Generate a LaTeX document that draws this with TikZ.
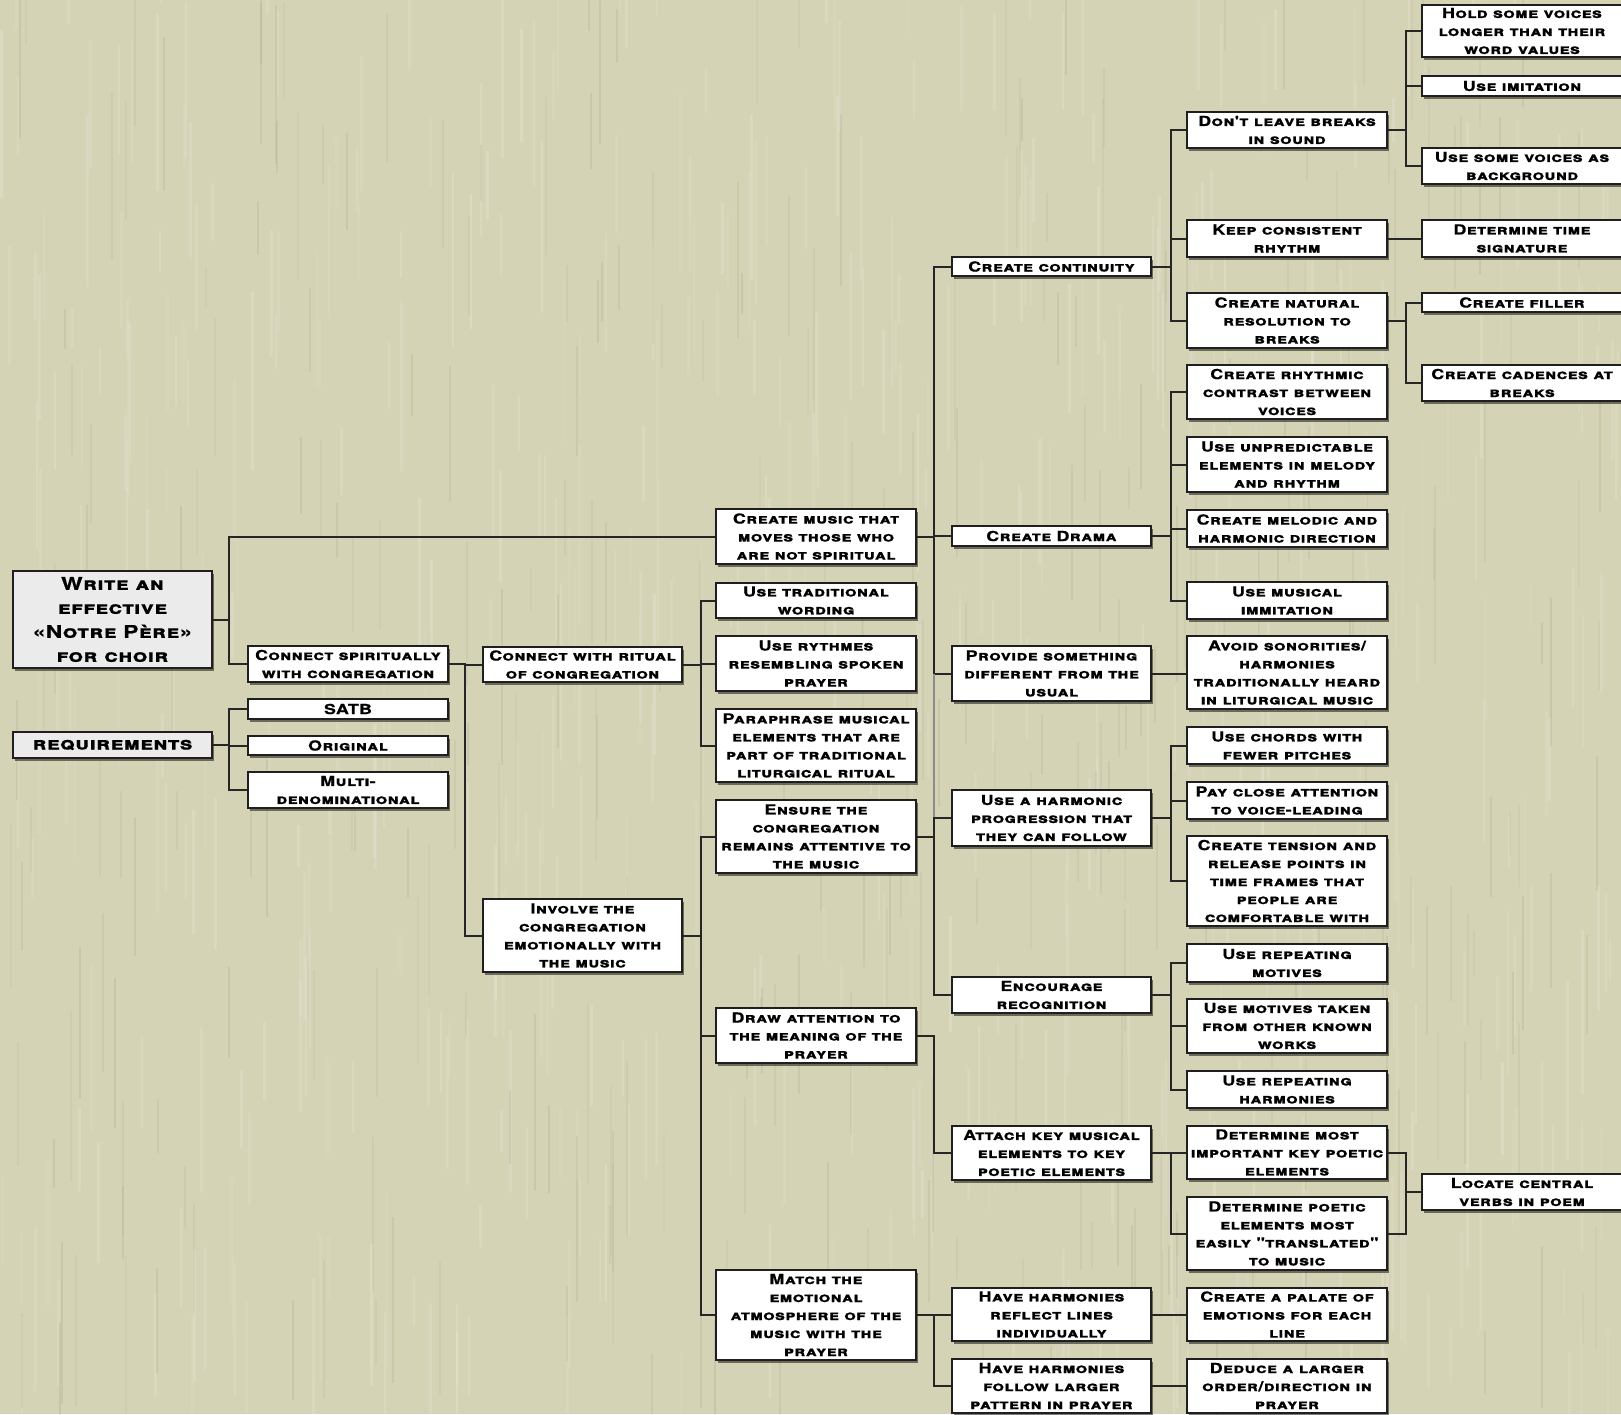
\documentclass[tikz,border=0pt]{standalone}
\usepackage{fontspec}
\usetikzlibrary{shadows}
\newfontfamily\cpf{TeX Gyre Heros}[FakeStretch=1.3,LetterSpace=2.5,FakeBold=0.6]
\definecolor{bgc}{HTML}{D5D3B6}
\definecolor{rootfill}{HTML}{EBEBEB}
\tikzset{
  box/.style={draw=black!88, line width=1.6pt, fill=white,
    drop shadow={shadow xshift=1.5pt, shadow yshift=-3pt, fill=black, opacity=0.5},
    align=center, inner sep=0pt, text=black,
    font=\cpf\bfseries\scshape\fontsize{13.8}{18}\selectfont},
  rootbox/.style={fill=rootfill, font=\cpf\bfseries\scshape\fontsize{17.5}{24}\selectfont},
  conline/.style={draw=black!85, line width=2pt}
}
\newcommand\bx[7][]{\node[box,#1,minimum width={(#5-#3)*1pt},minimum height={(#6-#4)*1pt}] (#2) at ({(#3+#5)/2},{(#4+#6)/2}) {#7};}
\newcommand\conn[3]{\draw[conline] (#1.east) -| (#3.west -| #2) -- (#3.west);}
\begin{document}
\begin{tikzpicture}[x=1pt,y=-1pt]
\useasboundingbox (0,0) rectangle (1621,1414);
\fill[bgc] (0,0) rectangle (1621,1414);
\begin{scope}
\clip (0,0) rectangle (1621,1414);
\pgfmathsetseed{11}
\foreach \i in {1,...,500} {
  \pgfmathsetmacro\xx{rnd*1621}
  \pgfmathsetmacro\yy{rnd*1414-60}
  \pgfmathsetmacro\ll{40+rnd*140}
  \pgfmathsetmacro\oo{0.05+rnd*0.1}
  \fill[white, opacity=\oo] (\xx,\yy) rectangle ++(2.5,\ll);
}
\foreach \i in {1,...,300} {
  \pgfmathsetmacro\xx{rnd*1621}
  \pgfmathsetmacro\yy{rnd*1414-60}
  \pgfmathsetmacro\ll{40+rnd*140}
  \pgfmathsetmacro\oo{0.03+rnd*0.06}
  \fill[black!60!olive, opacity=\oo] (\xx,\yy) rectangle ++(2,\ll);
}
\end{scope}
\coordinate (t1) at (229,0);
\coordinate (t2) at (465,0);
\coordinate (t3) at (701,0);
\coordinate (t4) at (934,0);
\coordinate (t5) at (1171,0);
\coordinate (t6) at (1406,0);
% column 0
\bx[rootbox]{root}{13}{571}{212}{668}{Write an\\effective\\«Notre Père»\\for choir}
\bx[rootbox]{req}{13}{732}{212}{758}{requirements}
% column 1
\bx{cs}{248}{646}{448}{682}{Connect spiritually\\with congregation}
\bx{satb}{248}{699}{448}{719}{SATB}
\bx{orig}{248}{736}{448}{755}{Original}
\bx{multi}{248}{772}{448}{808}{Multi-\\denominational}
% column 2
\bx{cr}{483}{647}{682}{682}{Connect with ritual\\of congregation}
\bx{inv}{483}{899}{682}{972}{Involve the\\congregation\\emotionally with\\the music}
% column 3
\bx{cm}{716}{509}{916}{564}{Create music that\\moves those who\\are not spiritual}
\bx{utw}{716}{583}{916}{618}{Use traditional\\wording}
\bx{ur}{716}{636}{916}{691}{Use rythmes\\resembling spoken\\prayer}
\bx{par}{716}{709}{916}{782}{Paraphrase musical\\elements that are\\part of traditional\\liturgical ritual}
\bx{ens}{716}{800}{916}{873}{Ensure the\\congregation\\remains attentive to\\the music}
\bx{drw}{716}{1008}{916}{1063}{Draw attention to\\the meaning of the\\prayer}
\bx{mat}{716}{1270}{916}{1360}{Match the\\emotional\\atmosphere of the\\music with the\\prayer}
% column 4
\bx{cc}{952}{257}{1151}{276}{Create continuity}
\bx{cd}{952}{526}{1151}{546}{Create Drama}
\bx{prov}{952}{646}{1151}{701}{Provide something\\different from the\\usual}
\bx{harm}{952}{790}{1151}{846}{Use a harmonic\\progression that\\they can follow}
\bx{enc}{952}{977}{1151}{1013}{Encourage\\recognition}
\bx{att}{952}{1126}{1151}{1180}{Attach key musical\\elements to key\\poetic elements}
\bx{hr}{952}{1288}{1151}{1341}{Have harmonies\\reflect lines\\individually}
\bx{hf}{952}{1359}{1151}{1413}{Have harmonies\\follow larger\\pattern in prayer}
% column 5
\bx{dl}{1187}{112}{1387}{148}{Don't leave breaks\\in sound}
\bx{kc}{1187}{220}{1387}{257}{Keep consistent\\rhythm}
\bx{cn}{1187}{293}{1387}{348}{Create natural\\resolution to\\breaks}
\bx{crc}{1187}{365}{1387}{419}{Create rhythmic\\contrast between\\voices}
\bx{uu}{1187}{437}{1387}{492}{Use unpredictable\\elements in melody\\and rhythm}
\bx{cmh}{1187}{510}{1387}{547}{Create melodic and\\harmonic direction}
\bx{umi}{1187}{582}{1387}{619}{Use musical\\immitation}
\bx{av}{1187}{636}{1387}{709}{Avoid sonorities/\\harmonies\\traditionally heard\\in liturgical music}
\bx{uc}{1187}{727}{1387}{764}{Use chords with\\fewer pitches}
\bx{pc}{1187}{782}{1387}{819}{Pay close attention\\to voice-leading}
\bx{ct}{1187}{836}{1387}{926}{Create tension and\\release points in\\time frames that\\people are\\comfortable with}
\bx{urm}{1187}{944}{1387}{982}{Use repeating\\motives}
\bx{umt}{1187}{999}{1387}{1053}{Use motives taken\\from other known\\works}
\bx{urh}{1187}{1071}{1387}{1108}{Use repeating\\harmonies}
\bx{dm}{1187}{1126}{1387}{1179}{Determine most\\important key poetic\\elements}
\bx{dp}{1187}{1197}{1387}{1270}{Determine poetic\\elements most\\easily "translated"\\to music}
\bx{cpl}{1187}{1288}{1387}{1341}{Create a palate of\\emotions for each\\line}
\bx{dd}{1187}{1359}{1387}{1413}{Deduce a larger\\order/direction in\\prayer}
% column 6
\bx{hold}{1422}{5}{1622}{57}{Hold some voices\\longer than their\\word values}
\bx{ui}{1422}{76}{1622}{96}{Use imitation}
\bx{usv}{1422}{148}{1622}{184}{Use some voices as\\background}
\bx{dts}{1422}{220}{1622}{257}{Determine time\\signature}
\bx{cf}{1422}{293}{1622}{312}{Create filler}
\bx{cca}{1422}{365}{1622}{401}{Create cadences at\\breaks}
\bx{loc}{1422}{1174}{1622}{1210}{Locate central\\verbs in poem}
% connectors
\conn{root}{t1}{cm}
\conn{root}{t1}{cs}
\conn{req}{t1}{satb}
\conn{req}{t1}{orig}
\conn{req}{t1}{multi}
\conn{cs}{t2}{cr}
\conn{cs}{t2}{inv}
\conn{cr}{t3}{utw}
\conn{cr}{t3}{ur}
\conn{cr}{t3}{par}
\conn{inv}{t3}{ens}
\conn{inv}{t3}{drw}
\conn{inv}{t3}{mat}
\conn{cm}{t4}{cc}
\conn{cm}{t4}{cd}
\conn{cm}{t4}{prov}
\draw[conline, draw=black!45] (prov.west -| t4) -- (harm.west -| t4);
\conn{ens}{t4}{harm}
\conn{ens}{t4}{enc}
\conn{drw}{t4}{att}
\conn{mat}{t4}{hr}
\conn{mat}{t4}{hf}
\conn{cc}{t5}{dl}
\conn{cc}{t5}{kc}
\conn{cc}{t5}{cn}
\conn{cd}{t5}{crc}
\conn{cd}{t5}{uu}
\conn{cd}{t5}{cmh}
\conn{cd}{t5}{umi}
\draw[conline] (prov.east) -- (prov.east -| av.west);
\conn{harm}{t5}{uc}
\conn{harm}{t5}{pc}
\conn{harm}{t5}{ct}
\conn{enc}{t5}{urm}
\conn{enc}{t5}{umt}
\conn{enc}{t5}{urh}
\conn{att}{t5}{dm}
\conn{att}{t5}{dp}
\draw[conline] (hr.east) -- (hr.east -| cpl.west);
\draw[conline] (hf.east) -- (hf.east -| dd.west);
\conn{dl}{t6}{hold}
\conn{dl}{t6}{ui}
\conn{dl}{t6}{usv}
\draw[conline] (kc.east) -- (kc.east -| dts.west);
\conn{cn}{t6}{cf}
\conn{cn}{t6}{cca}
\conn{dm}{t6}{loc}
\conn{dp}{t6}{loc}
\end{tikzpicture}
\end{document}
